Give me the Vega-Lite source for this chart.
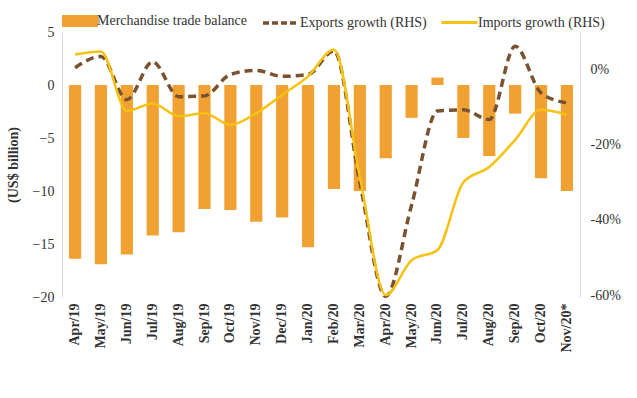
{
  "$schema": "https://vega.github.io/schema/vega-lite/v6.json",
  "width": 518,
  "height": 265,
  "autosize": "none",
  "padding": {"left": 62, "top": 32, "right": 57, "bottom": 101},
  "background": "white",
  "config": {
    "font": "Liberation Serif",
    "view": {"stroke": null},
    "legend": {"labelFont": "Liberation Serif", "labelFontSize": 14, "labelColor": "#333", "orient": "none", "padding": 0, "labelOffset": 5}
  },
  "data": {
    "values": [
      {"month": "Apr/19", "balance": -16.4, "exports": 0.5, "imports": 4.0},
      {"month": "May/19", "balance": -16.9, "exports": 3.5, "imports": 4.8},
      {"month": "Jun/19", "balance": -16.0, "exports": -8.0, "imports": -11.0},
      {"month": "Jul/19", "balance": -14.2, "exports": 2.1, "imports": -9.0},
      {"month": "Aug/19", "balance": -13.9, "exports": -7.2, "imports": -12.4},
      {"month": "Sep/19", "balance": -11.7, "exports": -7.0, "imports": -11.6},
      {"month": "Oct/19", "balance": -11.8, "exports": -1.3, "imports": -14.7},
      {"month": "Nov/19", "balance": -12.9, "exports": -0.2, "imports": -11.6},
      {"month": "Dec/19", "balance": -12.5, "exports": -1.8, "imports": -6.7},
      {"month": "Jan/20", "balance": -15.3, "exports": -1.3, "imports": -1.8},
      {"month": "Feb/20", "balance": -9.8, "exports": 5.0, "imports": 5.3},
      {"month": "Mar/20", "balance": -10.0, "exports": -30.0, "imports": -28.5},
      {"month": "Apr/20", "balance": -6.9, "exports": -60.3, "imports": -60.0},
      {"month": "May/20", "balance": -3.1, "exports": -36.0, "imports": -50.7},
      {"month": "Jun/20", "balance": 0.7, "exports": -11.0, "imports": -48.0},
      {"month": "Jul/20", "balance": -5.0, "exports": -10.7, "imports": -30.0},
      {"month": "Aug/20", "balance": -6.7, "exports": -13.3, "imports": -25.9},
      {"month": "Sep/20", "balance": -2.7, "exports": 6.2, "imports": -18.7},
      {"month": "Oct/20", "balance": -8.8, "exports": -6.2, "imports": -10.7},
      {"month": "Nov/20*", "balance": -10.0, "exports": -8.9, "imports": -12.0}
    ]
  },
  "encoding": {
    "x": {
      "field": "month",
      "type": "ordinal",
      "sort": null,
      "scale": {"paddingInner": 0.53, "paddingOuter": 0.27},
      "axis": {
        "title": null,
        "labelAngle": -90,
        "labelFont": "Liberation Serif",
        "labelFontSize": 14,
        "labelFontWeight": "bold",
        "labelColor": "#333",
        "labelPadding": 6,
        "ticks": false,
        "domain": false
      }
    }
  },
  "layer": [
    {
      "layer": [
        {
          "mark": {"type": "rule", "color": "#d9d9d9", "strokeWidth": 1},
          "encoding": {"y": {"datum": 0, "type": "quantitative"}}
        },
        {
          "mark": {"type": "bar", "color": "#F0A132"},
          "encoding": {
            "y": {
              "field": "balance",
              "type": "quantitative",
              "scale": {"domain": [-20, 5], "nice": false},
              "axis": {
                "title": "(US$ billion)",
                "titleFont": "Liberation Serif",
                "titleFontSize": 14,
                "titleFontWeight": "bold",
                "titleColor": "#333",
                "titlePadding": 12,
                "values": [5, 0, -5, -10, -15, -20],
                "labelFont": "Liberation Serif",
                "labelFontSize": 14,
                "labelColor": "#333",
                "grid": false,
                "ticks": false,
                "labelPadding": 8,
                "domainColor": "#d9d9d9"
              }
            },
            "y2": {"datum": 0},
            "color": {
              "datum": "Merchandise trade balance",
              "scale": {"range": ["#F0A132"]},
              "legend": {"title": null, "legendX": 6, "legendY": -23, "symbolType": "M-1.5,-0.5L1.5,-0.5L1.5,0.5L-1.5,0.5Z", "symbolSize": 576, "symbolStrokeWidth": 0}
            }
          }
        }
      ]
    },
    {
      "layer": [
        {
          "mark": {"type": "line", "interpolate": "monotone", "strokeWidth": 3.5, "strokeDash": [8, 5], "color": "#7A5230"},
          "encoding": {
            "y": {
              "field": "exports",
              "type": "quantitative",
              "scale": {"domain": [-60.5, 10], "nice": false},
              "axis": {
                "orient": "right",
                "title": null,
                "values": [0, -20, -40, -60],
                "labelExpr": "datum.value + '%'",
                "labelFont": "Liberation Serif",
                "labelFontSize": 14,
                "labelColor": "#333",
                "grid": false,
                "ticks": false,
                "labelPadding": 10,
                "domainColor": "#d9d9d9"
              }
            },
            "color": {
              "datum": "Exports growth (RHS)",
              "scale": {"range": ["#7A5230"]},
              "legend": {"title": null, "legendX": 205, "legendY": -23, "symbolType": "M-1.5,0L1.5,0", "symbolSize": 576, "symbolStrokeWidth": 3.5, "symbolDash": [6, 3]}
            }
          }
        },
        {
          "mark": {"type": "line", "interpolate": "monotone", "strokeWidth": 2.5, "color": "#F5C211"},
          "encoding": {
            "y": {
              "field": "imports",
              "type": "quantitative",
              "scale": {"domain": [-60.5, 10], "nice": false}
            },
            "color": {
              "datum": "Imports growth (RHS)",
              "scale": {"range": ["#F5C211"]},
              "legend": {"title": null, "legendX": 384, "legendY": -23, "symbolType": "M-1.5,0L1.5,0", "symbolSize": 576, "symbolStrokeWidth": 3}
            }
          }
        }
      ],
      "resolve": {"scale": {"color": "independent"}}
    }
  ],
  "resolve": {"scale": {"y": "independent", "color": "independent"}}
}
